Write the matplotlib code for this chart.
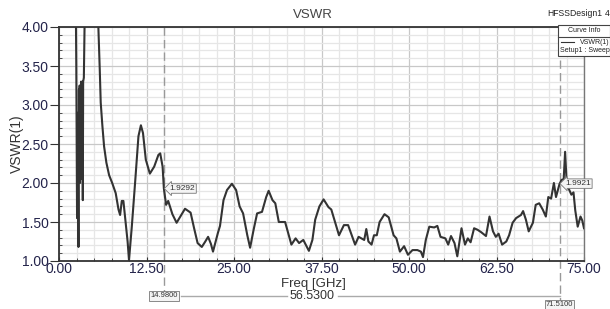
import numpy as np
import matplotlib
matplotlib.use('Agg')
import matplotlib.pyplot as plt
from matplotlib.ticker import MultipleLocator, FormatStrFormatter
from matplotlib.patches import Rectangle
from matplotlib.lines import Line2D

plt.rcParams['font.family'] = ['Liberation Sans', 'DejaVu Sans']

# VSWR(1) trace (GHz, VSWR)
freq_ghz = [2.40, 2.47, 2.52, 2.58, 2.68, 2.78, 2.85, 2.90, 2.95, 3.00, 3.05, 3.10, 3.15, 3.20,
            3.25, 3.30, 3.35, 3.40, 3.45, 3.55, 3.65, 3.80, 4.50, 5.20, 5.55, 5.82, 5.96, 6.20,
            6.44, 6.77, 7.16, 7.60, 8.10, 8.50, 8.73, 8.97, 9.20, 9.45, 9.80, 10.00, 10.40, 10.90,
            11.35, 11.70, 12.00, 12.40, 12.98, 13.60, 14.20, 14.46, 14.80, 14.98, 15.30, 15.60,
            16.20, 16.80, 17.40, 18.00, 18.80, 19.30, 19.80, 20.40, 20.90, 21.30, 21.70, 22.00,
            22.70, 23.00, 23.50, 24.00, 24.70, 25.30, 25.80, 26.30, 26.90, 27.30, 27.80, 28.30,
            29.00, 29.60, 29.95, 30.50, 30.90, 31.40, 32.30, 33.20, 33.80, 34.30, 34.90, 35.70,
            36.20, 36.60, 37.20, 37.80, 38.50, 38.90, 40.00, 40.70, 41.30, 42.30, 42.80, 43.60,
            43.90, 44.20, 44.65, 45.00, 45.40, 45.80, 46.50, 47.10, 47.80, 48.20, 48.70, 49.30,
            49.85, 50.50, 51.20, 51.70, 52.00, 52.40, 52.90, 53.60, 54.05, 54.50, 55.20, 55.60,
            56.00, 56.50, 56.90, 57.50, 58.00, 58.40, 58.80, 59.30, 59.80, 60.30, 61.00, 61.50,
            62.00, 62.40, 62.80, 63.30, 63.90, 64.30, 64.80, 65.30, 66.00, 66.30, 66.70, 67.10,
            67.70, 68.10, 68.60, 69.10, 69.55, 69.90, 70.30, 70.70, 71.00, 71.51, 71.80, 72.10,
            72.30, 72.50, 72.80, 73.20, 73.50, 73.75, 74.10, 74.50, 74.75, 75.00]
vswr = [4.30, 3.50, 2.70, 1.55, 2.90, 1.18, 3.20, 2.20, 3.25, 2.00, 3.20, 2.30, 3.30, 2.10,
        3.25, 2.05, 3.30, 1.78, 3.30, 3.35, 4.00, 4.50, 5.50, 5.00, 4.20, 3.46, 3.03, 2.73,
        2.47, 2.26, 2.10, 2.00, 1.87, 1.66, 1.59, 1.77, 1.77, 1.55, 1.25, 1.01, 1.44, 2.04,
        2.60, 2.74, 2.64, 2.30, 2.12, 2.21, 2.36, 2.38, 2.21, 1.93, 1.72, 1.77,
        1.60, 1.49, 1.58, 1.67, 1.62, 1.42, 1.23, 1.18, 1.25, 1.31, 1.22, 1.12,
        1.36, 1.45, 1.78, 1.91, 1.99, 1.91, 1.70, 1.61, 1.33, 1.17, 1.40, 1.61,
        1.63, 1.82, 1.90, 1.78, 1.74, 1.50, 1.50, 1.21, 1.29, 1.23, 1.27, 1.13,
        1.27, 1.53, 1.70, 1.79, 1.69, 1.66, 1.33, 1.46, 1.46, 1.21, 1.31, 1.27,
        1.41, 1.25, 1.21, 1.33, 1.33, 1.50, 1.60, 1.56, 1.33, 1.29, 1.12, 1.19,
        1.08, 1.14, 1.14, 1.12, 1.05, 1.27, 1.44, 1.43, 1.45, 1.31, 1.29, 1.21,
        1.32, 1.23, 1.06, 1.42, 1.21, 1.29, 1.24, 1.42, 1.40, 1.37, 1.32, 1.57,
        1.38, 1.31, 1.35, 1.21, 1.25, 1.33, 1.49, 1.55, 1.59, 1.64, 1.53, 1.38,
        1.49, 1.72, 1.74, 1.66, 1.57, 1.82, 1.80, 2.00, 1.82, 1.99, 2.04, 2.05,
        2.40, 2.05, 1.93, 1.85, 1.88, 1.65, 1.44, 1.57, 1.52, 1.42]

# markers
marker_freq = [14.98, 71.51]
marker_vswr = [1.9292, 1.9921]
marker_delta = 56.53

text_col = '#23234a'

fig = plt.figure(figsize=(6.10, 3.09), dpi=100)
ax = fig.add_axes([59/610, 1-261/309, 525/610, 234/309])

ax.plot(freq_ghz, vswr, color='#333333', lw=1.5, zorder=3)

ax.set_xlim(0, 75)
ax.set_ylim(1.0, 4.0)
ax.xaxis.set_major_locator(MultipleLocator(12.5))
ax.xaxis.set_minor_locator(MultipleLocator(2.5))
ax.yaxis.set_major_locator(MultipleLocator(0.5))
ax.yaxis.set_minor_locator(MultipleLocator(0.1))
ax.xaxis.set_major_formatter(FormatStrFormatter('%.2f'))
ax.yaxis.set_major_formatter(FormatStrFormatter('%.2f'))

ax.grid(which='major', color='#c8c8c8', lw=0.9, zorder=1)
ax.grid(which='minor', color='#e6e6e6', lw=0.9, zorder=0)
ax.set_axisbelow(True)

ax.tick_params(axis='y', which='major', direction='out', length=6.5, width=0.8,
               labelsize=10, labelcolor=text_col, color='#333333', pad=1)
ax.tick_params(axis='y', which='minor', direction='in', length=2.5, width=0.6, color='#333333')
ax.tick_params(axis='x', which='major', direction='in', length=3, width=0.8,
               labelsize=10, labelcolor=text_col, color='#333333', pad=1)
ax.tick_params(axis='x', which='minor', direction='in', length=2.5, width=0.6, color='#333333')

for side in ['left', 'bottom', 'top']:
    ax.spines[side].set_color('#333333')
    ax.spines[side].set_linewidth(1.3)
ax.spines['right'].set_color('#777777')
ax.spines['right'].set_linewidth(1.0)

ax.set_ylabel('VSWR(1)', fontsize=10, color='#333333', labelpad=-2)
fig.text(313/610, 1-283.5/309, 'Freq [GHz]', fontsize=9.5, color='#333333', ha='center', va='center')
fig.text(313/610, 1-15/309, 'VSWR', fontsize=9.5, color='#444444', ha='center', va='center')

# marker lines, dashed, running below the axis
bt = ax.get_xaxis_transform()
ax.plot([marker_freq[0]]*2, [1.0, -0.14], transform=bt, color='#999999', lw=1.0,
        ls=(0, (6, 3)), clip_on=False, zorder=2)
ax.plot([marker_freq[1]]*2, [0.86, -0.17], transform=bt, color='#999999', lw=1.0,
        ls=(0, (6, 3)), clip_on=False, zorder=2)

for f, v in zip(marker_freq, marker_vswr):
    ax.annotate(f'{v:.4f}', xy=(f, v), xytext=(4, 0), textcoords='offset points',
                fontsize=6, color='#333333', ha='left', va='center',
                bbox=dict(boxstyle='larrow,pad=0.15', fc='#f4f4f4', ec='#777777', lw=0.6),
                annotation_clip=False, zorder=5)

# delta line between markers
y_delta = -0.149
ax.plot([marker_freq[0] + 2.5, 32.5], [y_delta]*2, transform=bt, color='#aaaaaa', lw=1.0, clip_on=False)
ax.plot([39.8, marker_freq[1]], [y_delta]*2, transform=bt, color='#aaaaaa', lw=1.0, clip_on=False)
ax.text(36.2, y_delta, f'{marker_delta:.4f}', transform=bt,
        fontsize=9, color='#333333', ha='center', va='center')
ax.text(marker_freq[0], y_delta, f'{marker_freq[0]:.4f}', transform=bt, fontsize=5.5,
        color='#333333', ha='center', va='center',
        bbox=dict(boxstyle='square,pad=0.15', fc='#f4f4f4', ec='#777777', lw=0.6))
ax.text(marker_freq[1], -0.187, f'{marker_freq[1]:.4f}', transform=bt, fontsize=5.5,
        color='#333333', ha='center', va='center',
        bbox=dict(boxstyle='square,pad=0.15', fc='#f4f4f4', ec='#777777', lw=0.6))

# header / curve info box
fig.text(547/610, 1-14/309, 'HFSSDesign1', fontsize=6.2, color='#222222', ha='left', va='center')
fig.text(605/610, 1-14/309, '4', fontsize=6.2, color='#222222', ha='left', va='center')
fig.patches.append(Rectangle((558/610, 1-56/309), 52/610, 31/309, transform=fig.transFigure,
                             fc='white', ec='#444444', lw=0.8, zorder=5))
fig.lines.append(Line2D([558/610, 610/610], [1-37/309]*2, transform=fig.transFigure,
                        color='#444444', lw=0.8, zorder=6))
fig.text(584/610, 1-31/309, 'Curve Info', fontsize=5, color='#222222', ha='center', va='center', zorder=7)
fig.lines.append(Line2D([561/610, 574/610], [1-42/309]*2, transform=fig.transFigure,
                        color='#333333', lw=0.8, zorder=6))
fig.text(580/610, 1-42/309, 'VSWR(1)', fontsize=5, color='#222222', ha='left', va='center', zorder=7)
fig.text(560/610, 1-50/309, 'Setup1 : Sweep', fontsize=5, color='#222222', ha='left', va='center', zorder=7)

fig.savefig('out.png', dpi=100)
